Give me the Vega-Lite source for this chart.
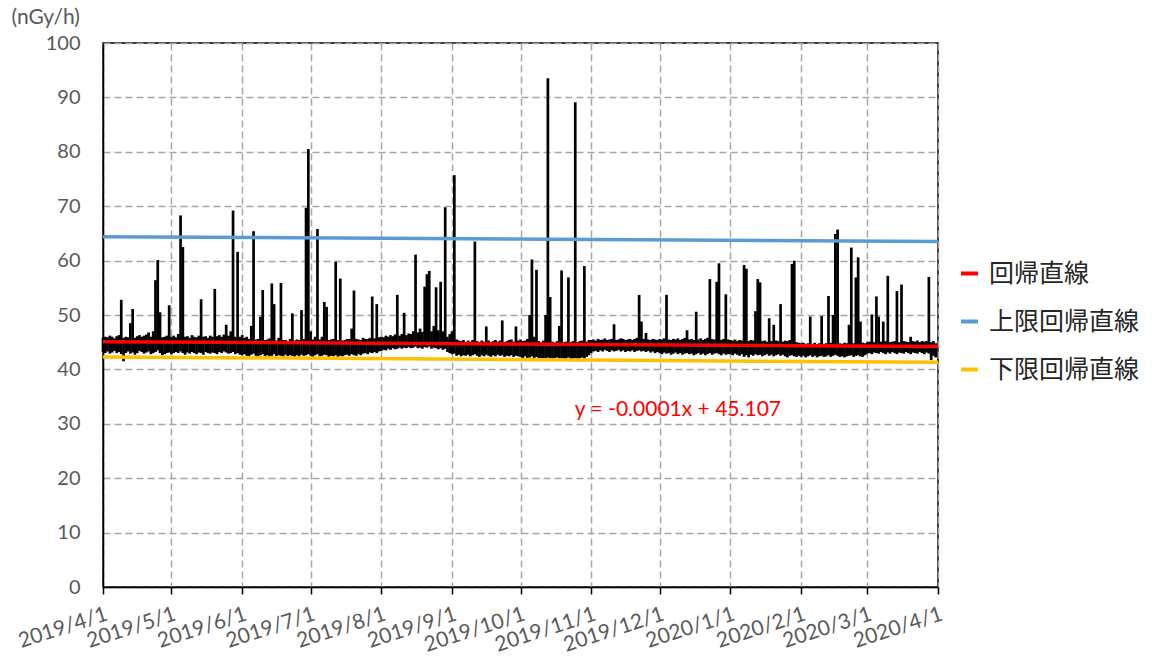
{
"$schema": "https://vega.github.io/schema/vega-lite/v6.json",
"width": 835,
"height": 544,
"autosize": {"type": "none"},
"padding": {"left": 103, "top": 43, "right": 226, "bottom": 75},
"background": "white",
"config": {"view": {"stroke": "#000", "strokeWidth": 1.5}, "font": "Lato"},
"datasets": {
"obs": [
{"d":"2019-04-01","lo":43.2,"hi":45.8},{"d":"2019-04-02","lo":43.0,"hi":46.0},{"d":"2019-04-03","lo":43.3,"hi":45.9},{"d":"2019-04-04","lo":42.9,"hi":46.2},{"d":"2019-04-05","lo":43.1,"hi":46.0},{"d":"2019-04-06","lo":43.4,"hi":45.7},{"d":"2019-04-07","lo":43.0,"hi":46.1},{"d":"2019-04-08","lo":43.2,"hi":46.3},{"d":"2019-04-09","lo":42.8,"hi":52.8},{"d":"2019-04-10","lo":41.5,"hi":45.8},
{"d":"2019-04-11","lo":43.0,"hi":46.0},{"d":"2019-04-12","lo":43.3,"hi":45.9},{"d":"2019-04-13","lo":42.9,"hi":48.5},{"d":"2019-04-14","lo":43.1,"hi":51.1},{"d":"2019-04-15","lo":42.7,"hi":45.8},{"d":"2019-04-16","lo":43.0,"hi":46.1},{"d":"2019-04-17","lo":43.4,"hi":46.3},{"d":"2019-04-18","lo":43.2,"hi":46.0},{"d":"2019-04-19","lo":42.9,"hi":46.2},{"d":"2019-04-20","lo":43.1,"hi":46.4},
{"d":"2019-04-21","lo":43.3,"hi":46.8},{"d":"2019-04-22","lo":42.8,"hi":46.0},{"d":"2019-04-23","lo":43.0,"hi":47.0},{"d":"2019-04-24","lo":43.2,"hi":56.4},{"d":"2019-04-25","lo":43.5,"hi":60.1},{"d":"2019-04-26","lo":43.0,"hi":50.5},{"d":"2019-04-27","lo":42.6,"hi":45.9},{"d":"2019-04-28","lo":42.8,"hi":46.0},{"d":"2019-04-29","lo":43.0,"hi":46.2},{"d":"2019-04-30","lo":43.1,"hi":51.8},
{"d":"2019-05-01","lo":42.8,"hi":46.0},{"d":"2019-05-02","lo":43.0,"hi":46.2},{"d":"2019-05-03","lo":43.2,"hi":45.9},{"d":"2019-05-04","lo":43.0,"hi":46.5},{"d":"2019-05-05","lo":43.3,"hi":68.3},{"d":"2019-05-06","lo":43.0,"hi":62.5},{"d":"2019-05-07","lo":42.7,"hi":46.0},{"d":"2019-05-08","lo":43.1,"hi":46.1},{"d":"2019-05-09","lo":42.9,"hi":45.8},{"d":"2019-05-10","lo":43.2,"hi":46.3},
{"d":"2019-05-11","lo":43.0,"hi":46.0},{"d":"2019-05-12","lo":42.8,"hi":45.9},{"d":"2019-05-13","lo":43.1,"hi":46.2},{"d":"2019-05-14","lo":43.0,"hi":52.9},{"d":"2019-05-15","lo":42.7,"hi":46.0},{"d":"2019-05-16","lo":43.2,"hi":46.1},{"d":"2019-05-17","lo":43.0,"hi":45.8},{"d":"2019-05-18","lo":42.9,"hi":46.2},{"d":"2019-05-19","lo":43.1,"hi":46.0},{"d":"2019-05-20","lo":43.0,"hi":54.8},
{"d":"2019-05-21","lo":42.8,"hi":46.1},{"d":"2019-05-22","lo":43.2,"hi":46.3},{"d":"2019-05-23","lo":43.0,"hi":46.0},{"d":"2019-05-24","lo":43.3,"hi":46.4},{"d":"2019-05-25","lo":43.1,"hi":48.2},{"d":"2019-05-26","lo":42.9,"hi":46.2},{"d":"2019-05-27","lo":43.0,"hi":47.0},{"d":"2019-05-28","lo":43.2,"hi":69.2},{"d":"2019-05-29","lo":42.8,"hi":46.0},{"d":"2019-05-30","lo":43.0,"hi":61.6},{"d":"2019-05-31","lo":42.7,"hi":46.0},
{"d":"2019-06-01","lo":42.6,"hi":46.3},{"d":"2019-06-02","lo":42.8,"hi":45.8},{"d":"2019-06-03","lo":42.5,"hi":46.0},{"d":"2019-06-04","lo":42.4,"hi":45.6},{"d":"2019-06-05","lo":42.7,"hi":48.0},{"d":"2019-06-06","lo":42.9,"hi":65.4},{"d":"2019-06-07","lo":42.5,"hi":45.5},{"d":"2019-06-08","lo":42.3,"hi":45.6},{"d":"2019-06-09","lo":42.6,"hi":49.7},{"d":"2019-06-10","lo":42.8,"hi":54.6},
{"d":"2019-06-11","lo":42.4,"hi":45.4},{"d":"2019-06-12","lo":42.6,"hi":45.5},{"d":"2019-06-13","lo":42.3,"hi":45.7},{"d":"2019-06-14","lo":42.5,"hi":55.8},{"d":"2019-06-15","lo":42.8,"hi":52.0},{"d":"2019-06-16","lo":42.4,"hi":45.3},{"d":"2019-06-17","lo":42.6,"hi":45.8},{"d":"2019-06-18","lo":42.5,"hi":55.9},{"d":"2019-06-19","lo":42.3,"hi":45.4},{"d":"2019-06-20","lo":42.7,"hi":45.4},
{"d":"2019-06-21","lo":42.4,"hi":45.2},{"d":"2019-06-22","lo":42.6,"hi":45.6},{"d":"2019-06-23","lo":42.5,"hi":50.3},{"d":"2019-06-24","lo":42.3,"hi":45.3},{"d":"2019-06-25","lo":42.6,"hi":45.5},{"d":"2019-06-26","lo":42.4,"hi":45.4},{"d":"2019-06-27","lo":42.7,"hi":50.9},{"d":"2019-06-28","lo":42.5,"hi":45.6},{"d":"2019-06-29","lo":42.6,"hi":69.7},{"d":"2019-06-30","lo":42.8,"hi":80.5},
{"d":"2019-07-01","lo":42.5,"hi":47.0},{"d":"2019-07-02","lo":42.3,"hi":45.5},{"d":"2019-07-03","lo":42.6,"hi":46.0},{"d":"2019-07-04","lo":42.8,"hi":65.8},{"d":"2019-07-05","lo":42.4,"hi":45.5},{"d":"2019-07-06","lo":42.5,"hi":46.0},{"d":"2019-07-07","lo":42.7,"hi":52.4},{"d":"2019-07-08","lo":42.6,"hi":51.5},{"d":"2019-07-09","lo":42.3,"hi":45.4},{"d":"2019-07-10","lo":42.5,"hi":45.5},
{"d":"2019-07-11","lo":42.4,"hi":45.6},{"d":"2019-07-12","lo":42.6,"hi":59.8},{"d":"2019-07-13","lo":42.3,"hi":45.4},{"d":"2019-07-14","lo":42.5,"hi":56.7},{"d":"2019-07-15","lo":42.4,"hi":45.3},{"d":"2019-07-16","lo":42.6,"hi":45.4},{"d":"2019-07-17","lo":42.7,"hi":45.6},{"d":"2019-07-18","lo":42.5,"hi":45.6},{"d":"2019-07-19","lo":42.8,"hi":47.5},{"d":"2019-07-20","lo":42.6,"hi":54.5},
{"d":"2019-07-21","lo":42.5,"hi":45.6},{"d":"2019-07-22","lo":42.8,"hi":45.5},{"d":"2019-07-23","lo":42.6,"hi":45.4},{"d":"2019-07-24","lo":42.9,"hi":45.8},{"d":"2019-07-25","lo":43.0,"hi":45.6},{"d":"2019-07-26","lo":42.8,"hi":45.6},{"d":"2019-07-27","lo":43.1,"hi":45.8},{"d":"2019-07-28","lo":43.0,"hi":53.4},{"d":"2019-07-29","lo":43.2,"hi":45.7},{"d":"2019-07-30","lo":43.0,"hi":52.0},{"d":"2019-07-31","lo":43.3,"hi":45.9},
{"d":"2019-08-01","lo":43.4,"hi":46.0},{"d":"2019-08-02","lo":43.6,"hi":45.9},{"d":"2019-08-03","lo":43.5,"hi":46.2},{"d":"2019-08-04","lo":43.8,"hi":46.0},{"d":"2019-08-05","lo":43.6,"hi":46.3},{"d":"2019-08-06","lo":43.9,"hi":46.1},{"d":"2019-08-07","lo":43.7,"hi":46.4},{"d":"2019-08-08","lo":43.8,"hi":53.7},{"d":"2019-08-09","lo":44.0,"hi":46.2},{"d":"2019-08-10","lo":43.8,"hi":46.5},
{"d":"2019-08-11","lo":44.0,"hi":50.4},{"d":"2019-08-12","lo":43.9,"hi":46.3},{"d":"2019-08-13","lo":44.1,"hi":46.6},{"d":"2019-08-14","lo":43.9,"hi":46.5},{"d":"2019-08-15","lo":44.0,"hi":47.0},{"d":"2019-08-16","lo":44.2,"hi":61.1},{"d":"2019-08-17","lo":43.9,"hi":46.8},{"d":"2019-08-18","lo":44.0,"hi":47.5},{"d":"2019-08-19","lo":43.8,"hi":46.9},{"d":"2019-08-20","lo":44.1,"hi":55.2},
{"d":"2019-08-21","lo":44.0,"hi":57.5},{"d":"2019-08-22","lo":44.2,"hi":58.1},{"d":"2019-08-23","lo":43.8,"hi":47.0},{"d":"2019-08-24","lo":44.0,"hi":48.0},{"d":"2019-08-25","lo":43.9,"hi":55.1},{"d":"2019-08-26","lo":43.7,"hi":47.2},{"d":"2019-08-27","lo":43.9,"hi":56.1},{"d":"2019-08-28","lo":43.6,"hi":47.0},{"d":"2019-08-29","lo":43.8,"hi":69.8},{"d":"2019-08-30","lo":43.2,"hi":46.0},{"d":"2019-08-31","lo":43.0,"hi":46.5},
{"d":"2019-09-01","lo":42.8,"hi":47.0},{"d":"2019-09-02","lo":42.9,"hi":75.7},{"d":"2019-09-03","lo":42.5,"hi":45.5},{"d":"2019-09-04","lo":42.7,"hi":45.3},{"d":"2019-09-05","lo":42.4,"hi":45.2},{"d":"2019-09-06","lo":42.6,"hi":45.4},{"d":"2019-09-07","lo":42.5,"hi":45.0},{"d":"2019-09-08","lo":42.7,"hi":45.3},{"d":"2019-09-09","lo":42.4,"hi":45.1},{"d":"2019-09-10","lo":42.6,"hi":45.4},
{"d":"2019-09-11","lo":42.8,"hi":63.5},{"d":"2019-09-12","lo":42.5,"hi":45.2},{"d":"2019-09-13","lo":42.3,"hi":45.0},{"d":"2019-09-14","lo":42.6,"hi":45.3},{"d":"2019-09-15","lo":42.4,"hi":45.1},{"d":"2019-09-16","lo":42.7,"hi":47.9},{"d":"2019-09-17","lo":42.5,"hi":45.3},{"d":"2019-09-18","lo":42.3,"hi":45.0},{"d":"2019-09-19","lo":42.6,"hi":45.2},{"d":"2019-09-20","lo":42.4,"hi":45.4},
{"d":"2019-09-21","lo":42.7,"hi":45.1},{"d":"2019-09-22","lo":42.5,"hi":45.3},{"d":"2019-09-23","lo":42.6,"hi":49.0},{"d":"2019-09-24","lo":42.3,"hi":45.0},{"d":"2019-09-25","lo":42.5,"hi":45.2},{"d":"2019-09-26","lo":42.4,"hi":45.4},{"d":"2019-09-27","lo":42.6,"hi":45.5},{"d":"2019-09-28","lo":42.3,"hi":45.1},{"d":"2019-09-29","lo":42.5,"hi":47.9},{"d":"2019-09-30","lo":42.4,"hi":45.3},
{"d":"2019-10-01","lo":42.3,"hi":45.5},{"d":"2019-10-02","lo":42.1,"hi":45.2},{"d":"2019-10-03","lo":42.4,"hi":45.3},{"d":"2019-10-04","lo":42.0,"hi":45.6},{"d":"2019-10-05","lo":42.2,"hi":50.0},{"d":"2019-10-06","lo":42.4,"hi":60.2},{"d":"2019-10-07","lo":42.0,"hi":46.0},{"d":"2019-10-08","lo":42.3,"hi":58.3},{"d":"2019-10-09","lo":41.9,"hi":45.2},{"d":"2019-10-10","lo":42.1,"hi":45.0},
{"d":"2019-10-11","lo":41.8,"hi":45.3},{"d":"2019-10-12","lo":42.0,"hi":50.0},{"d":"2019-10-13","lo":42.2,"hi":93.5},{"d":"2019-10-14","lo":42.0,"hi":53.3},{"d":"2019-10-15","lo":41.7,"hi":45.1},{"d":"2019-10-16","lo":42.0,"hi":44.9},{"d":"2019-10-17","lo":42.2,"hi":45.2},{"d":"2019-10-18","lo":41.9,"hi":48.0},{"d":"2019-10-19","lo":42.1,"hi":58.2},{"d":"2019-10-20","lo":41.8,"hi":45.0},
{"d":"2019-10-21","lo":42.0,"hi":45.1},{"d":"2019-10-22","lo":42.2,"hi":56.9},{"d":"2019-10-23","lo":41.6,"hi":45.0},{"d":"2019-10-24","lo":41.9,"hi":45.2},{"d":"2019-10-25","lo":42.1,"hi":89.1},{"d":"2019-10-26","lo":41.8,"hi":45.0},{"d":"2019-10-27","lo":42.0,"hi":45.2},{"d":"2019-10-28","lo":42.2,"hi":45.3},{"d":"2019-10-29","lo":42.0,"hi":59.0},{"d":"2019-10-30","lo":42.3,"hi":45.1},{"d":"2019-10-31","lo":42.6,"hi":45.4},
{"d":"2019-11-01","lo":43.0,"hi":45.4},{"d":"2019-11-02","lo":43.3,"hi":45.5},{"d":"2019-11-03","lo":43.4,"hi":45.3},{"d":"2019-11-04","lo":43.2,"hi":45.6},{"d":"2019-11-05","lo":43.5,"hi":45.4},{"d":"2019-11-06","lo":43.3,"hi":45.5},{"d":"2019-11-07","lo":43.6,"hi":45.7},{"d":"2019-11-08","lo":43.4,"hi":45.4},{"d":"2019-11-09","lo":43.2,"hi":45.5},{"d":"2019-11-10","lo":43.5,"hi":45.6},
{"d":"2019-11-11","lo":43.3,"hi":48.3},{"d":"2019-11-12","lo":43.4,"hi":45.4},{"d":"2019-11-13","lo":43.6,"hi":45.5},{"d":"2019-11-14","lo":43.3,"hi":45.7},{"d":"2019-11-15","lo":43.5,"hi":45.6},{"d":"2019-11-16","lo":43.2,"hi":45.4},{"d":"2019-11-17","lo":43.4,"hi":45.5},{"d":"2019-11-18","lo":43.3,"hi":45.6},{"d":"2019-11-19","lo":43.5,"hi":45.4},{"d":"2019-11-20","lo":43.2,"hi":45.6},
{"d":"2019-11-21","lo":43.4,"hi":45.8},{"d":"2019-11-22","lo":43.5,"hi":53.7},{"d":"2019-11-23","lo":43.3,"hi":48.8},{"d":"2019-11-24","lo":43.4,"hi":45.6},{"d":"2019-11-25","lo":43.2,"hi":46.7},{"d":"2019-11-26","lo":43.4,"hi":45.5},{"d":"2019-11-27","lo":43.1,"hi":45.4},{"d":"2019-11-28","lo":43.3,"hi":45.6},{"d":"2019-11-29","lo":43.0,"hi":45.5},{"d":"2019-11-30","lo":43.2,"hi":45.4},
{"d":"2019-12-01","lo":43.0,"hi":45.6},{"d":"2019-12-02","lo":42.8,"hi":45.5},{"d":"2019-12-03","lo":43.1,"hi":45.7},{"d":"2019-12-04","lo":42.9,"hi":53.7},{"d":"2019-12-05","lo":43.0,"hi":45.5},{"d":"2019-12-06","lo":42.7,"hi":45.4},{"d":"2019-12-07","lo":42.9,"hi":45.6},{"d":"2019-12-08","lo":43.1,"hi":45.5},{"d":"2019-12-09","lo":42.8,"hi":45.7},{"d":"2019-12-10","lo":43.0,"hi":45.4},
{"d":"2019-12-11","lo":42.7,"hi":45.6},{"d":"2019-12-12","lo":42.9,"hi":45.8},{"d":"2019-12-13","lo":43.0,"hi":47.2},{"d":"2019-12-14","lo":42.8,"hi":45.5},{"d":"2019-12-15","lo":42.9,"hi":45.6},{"d":"2019-12-16","lo":42.6,"hi":45.4},{"d":"2019-12-17","lo":42.8,"hi":50.6},{"d":"2019-12-18","lo":43.0,"hi":45.5},{"d":"2019-12-19","lo":42.7,"hi":45.7},{"d":"2019-12-20","lo":42.9,"hi":45.4},
{"d":"2019-12-21","lo":42.6,"hi":45.6},{"d":"2019-12-22","lo":42.8,"hi":45.8},{"d":"2019-12-23","lo":43.0,"hi":56.6},{"d":"2019-12-24","lo":42.7,"hi":45.6},{"d":"2019-12-25","lo":42.9,"hi":45.5},{"d":"2019-12-26","lo":43.0,"hi":56.1},{"d":"2019-12-27","lo":42.8,"hi":59.5},{"d":"2019-12-28","lo":42.6,"hi":45.4},{"d":"2019-12-29","lo":42.9,"hi":45.6},{"d":"2019-12-30","lo":42.7,"hi":53.8},{"d":"2019-12-31","lo":42.8,"hi":45.5},
{"d":"2020-01-01","lo":42.8,"hi":45.4},{"d":"2020-01-02","lo":42.6,"hi":45.3},{"d":"2020-01-03","lo":42.9,"hi":45.5},{"d":"2020-01-04","lo":42.7,"hi":45.2},{"d":"2020-01-05","lo":42.5,"hi":45.4},{"d":"2020-01-06","lo":42.8,"hi":45.3},{"d":"2020-01-07","lo":42.3,"hi":59.2},{"d":"2020-01-08","lo":42.6,"hi":58.5},{"d":"2020-01-09","lo":42.2,"hi":45.2},{"d":"2020-01-10","lo":42.7,"hi":45.4},
{"d":"2020-01-11","lo":42.5,"hi":45.3},{"d":"2020-01-12","lo":42.8,"hi":50.7},{"d":"2020-01-13","lo":42.6,"hi":56.6},{"d":"2020-01-14","lo":42.7,"hi":56.0},{"d":"2020-01-15","lo":42.4,"hi":45.2},{"d":"2020-01-16","lo":42.6,"hi":45.3},{"d":"2020-01-17","lo":42.8,"hi":45.1},{"d":"2020-01-18","lo":42.5,"hi":49.4},{"d":"2020-01-19","lo":42.7,"hi":45.2},{"d":"2020-01-20","lo":42.4,"hi":48.2},
{"d":"2020-01-21","lo":42.6,"hi":45.3},{"d":"2020-01-22","lo":42.8,"hi":45.2},{"d":"2020-01-23","lo":42.5,"hi":52.0},{"d":"2020-01-24","lo":42.7,"hi":45.1},{"d":"2020-01-25","lo":42.4,"hi":45.3},{"d":"2020-01-26","lo":42.2,"hi":45.2},{"d":"2020-01-27","lo":42.5,"hi":45.4},{"d":"2020-01-28","lo":42.6,"hi":59.4},{"d":"2020-01-29","lo":42.4,"hi":60.0},{"d":"2020-01-30","lo":42.3,"hi":45.0},{"d":"2020-01-31","lo":42.5,"hi":44.9},
{"d":"2020-02-01","lo":42.3,"hi":44.8},{"d":"2020-02-02","lo":42.5,"hi":44.9},{"d":"2020-02-03","lo":42.2,"hi":44.7},{"d":"2020-02-04","lo":42.4,"hi":44.8},{"d":"2020-02-05","lo":42.6,"hi":49.7},{"d":"2020-02-06","lo":42.3,"hi":44.7},{"d":"2020-02-07","lo":42.5,"hi":44.9},{"d":"2020-02-08","lo":42.2,"hi":44.6},{"d":"2020-02-09","lo":42.4,"hi":44.8},{"d":"2020-02-10","lo":42.5,"hi":49.8},
{"d":"2020-02-11","lo":42.3,"hi":44.7},{"d":"2020-02-12","lo":42.4,"hi":44.8},{"d":"2020-02-13","lo":42.6,"hi":53.5},{"d":"2020-02-14","lo":42.3,"hi":44.9},{"d":"2020-02-15","lo":42.5,"hi":50.0},{"d":"2020-02-16","lo":42.7,"hi":64.9},{"d":"2020-02-17","lo":42.5,"hi":65.7},{"d":"2020-02-18","lo":42.3,"hi":44.8},{"d":"2020-02-19","lo":42.4,"hi":44.7},{"d":"2020-02-20","lo":42.2,"hi":44.9},
{"d":"2020-02-21","lo":42.4,"hi":44.8},{"d":"2020-02-22","lo":42.5,"hi":48.2},{"d":"2020-02-23","lo":42.6,"hi":62.4},{"d":"2020-02-24","lo":42.3,"hi":44.8},{"d":"2020-02-25","lo":42.5,"hi":56.9},{"d":"2020-02-26","lo":42.6,"hi":60.6},{"d":"2020-02-27","lo":42.4,"hi":48.8},{"d":"2020-02-28","lo":42.3,"hi":44.9},{"d":"2020-02-29","lo":42.6,"hi":44.8},
{"d":"2020-03-01","lo":42.9,"hi":45.0},{"d":"2020-03-02","lo":43.0,"hi":45.1},{"d":"2020-03-03","lo":42.8,"hi":50.1},{"d":"2020-03-04","lo":43.1,"hi":45.0},{"d":"2020-03-05","lo":43.0,"hi":53.4},{"d":"2020-03-06","lo":42.9,"hi":49.7},{"d":"2020-03-07","lo":43.2,"hi":45.1},{"d":"2020-03-08","lo":43.0,"hi":48.8},{"d":"2020-03-09","lo":42.8,"hi":45.2},{"d":"2020-03-10","lo":43.1,"hi":57.2},
{"d":"2020-03-11","lo":42.9,"hi":45.0},{"d":"2020-03-12","lo":43.2,"hi":45.1},{"d":"2020-03-13","lo":43.0,"hi":45.2},{"d":"2020-03-14","lo":42.8,"hi":54.4},{"d":"2020-03-15","lo":43.1,"hi":45.0},{"d":"2020-03-16","lo":43.0,"hi":55.6},{"d":"2020-03-17","lo":42.9,"hi":45.2},{"d":"2020-03-18","lo":43.2,"hi":45.1},{"d":"2020-03-19","lo":43.0,"hi":45.0},{"d":"2020-03-20","lo":42.8,"hi":46.0},
{"d":"2020-03-21","lo":43.1,"hi":45.2},{"d":"2020-03-22","lo":43.0,"hi":45.1},{"d":"2020-03-23","lo":42.9,"hi":45.3},{"d":"2020-03-24","lo":43.2,"hi":45.0},{"d":"2020-03-25","lo":43.0,"hi":45.2},{"d":"2020-03-26","lo":42.8,"hi":45.1},{"d":"2020-03-27","lo":43.1,"hi":45.2},{"d":"2020-03-28","lo":42.9,"hi":57.0},{"d":"2020-03-29","lo":41.7,"hi":45.0},{"d":"2020-03-30","lo":42.5,"hi":45.2},{"d":"2020-03-31","lo":42.2,"hi":44.8}
],
"reg": [
{"s":"回帰直線","d":"2019-04-01","v":45.1},{"s":"回帰直線","d":"2020-04-01","v":44.2},
{"s":"上限回帰直線","d":"2019-04-01","v":64.4},{"s":"上限回帰直線","d":"2020-04-01","v":63.5},
{"s":"下限回帰直線","d":"2019-04-01","v":42.3},{"s":"下限回帰直線","d":"2020-04-01","v":41.3}
],
"eq": [{"d":"2019-12-09","v":32.5,"t":"y = -0.0001x + 45.107"}]
},
"layer": [
{
"data": {"name": "obs"},
"mark": {"type": "rule", "color": "#000000", "strokeWidth": 2.7, "strokeCap": "butt"},
"encoding": {
"x": {"field": "d", "type": "temporal",
"scale": {"type": "utc", "domain": [{"year": 2019, "month": 4, "date": 1, "utc": true}, {"year": 2020, "month": 4, "date": 1, "utc": true}], "nice": false},
"axis": {"title": null, "tickCount": {"interval": "month", "step": 1}, "labelExpr": "utcFormat(datum.value, '%Y/%-m/%-d')",
"labelAngle": -18, "labelAlign": "right", "labelBaseline": "top", "labelFontSize": 21, "labelColor": "#595959", "labelFont": "Lato",
"labelPadding": 9, "labelOverlap": false, "labelFlush": false, "labelBound": false,
"tickSize": 7, "tickColor": "#000000", "tickWidth": 1.5, "domainColor": "#000000", "domainWidth": 1.5,
"grid": true, "gridColor": "#A6A6A6", "gridDash": [7, 4], "gridWidth": 1.5}},
"y": {"field": "lo", "type": "quantitative",
"scale": {"domain": [0, 100], "nice": false},
"axis": {"values": [0, 10, 20, 30, 40, 50, 60, 70, 80, 90, 100], "title": "(nGy/h)", "titleAngle": 0, "titleAlign": "left", "titleBaseline": "middle",
"titleX": -92, "titleY": -26, "titleFontSize": 21, "titleFontWeight": "normal", "titleColor": "#595959", "titleFont": "Lato",
"labelFontSize": 20, "labelColor": "#595959", "labelFont": "Lato", "ticks": false, "tickSize": 0, "labelPadding": 23,
"domainColor": "#000000", "domainWidth": 1.5,
"grid": true, "gridColor": "#A6A6A6", "gridDash": [7, 4], "gridWidth": 1.5}},
"y2": {"field": "hi"}
}
},
{
"data": {"name": "reg"},
"mark": {"type": "line", "strokeWidth": 3.5},
"encoding": {
"x": {"field": "d", "type": "temporal"},
"y": {"field": "v", "type": "quantitative"},
"color": {"field": "s", "type": "nominal",
"scale": {"domain": ["回帰直線", "上限回帰直線", "下限回帰直線"], "range": ["#FF0000", "#5B9BD5", "#FFC000"]},
"legend": {"title": null, "orient": "none", "legendX": 854, "legendY": 218, "symbolType": "stroke", "symbolSize": 289, "symbolStrokeWidth": 4,
"labelFont": "Noto Sans CJK JP", "labelFontSize": 25, "labelColor": "#262626", "labelOffset": 7, "rowPadding": 22, "padding": 0, "labelLimit": 300}}
}
},
{
"data": {"name": "eq"},
"mark": {"type": "text", "color": "#FF0000", "fontSize": 21, "font": "Lato", "align": "center", "baseline": "middle"},
"encoding": {
"x": {"field": "d", "type": "temporal"},
"y": {"field": "v", "type": "quantitative"},
"text": {"field": "t"}
}
}
]
}
